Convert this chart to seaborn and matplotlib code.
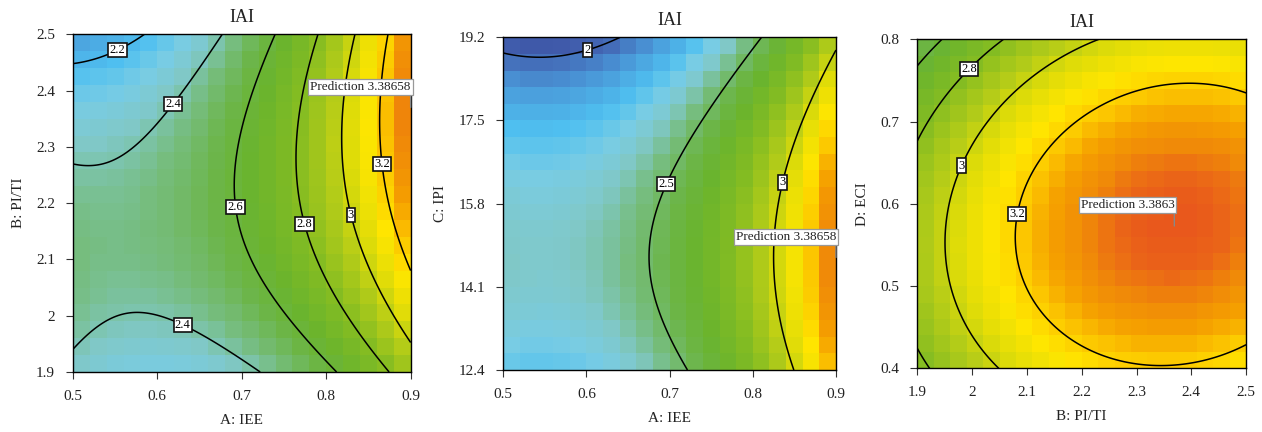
import numpy as np
import pandas as pd
import matplotlib
matplotlib.use("Agg")
import matplotlib.pyplot as plt
import seaborn as sns
from matplotlib.colors import LinearSegmentedColormap

# ---------------- data ----------------
TITLE = "IAI"
A_range = [0.5, 0.9]      # A: IEE
B_range = [1.9, 2.5]      # B: PI/TI
C_range = [12.4, 19.2]    # C: IPI
D_range = [0.4, 0.8]      # D: ECI

A_ticks = ["0.5", "0.6", "0.7", "0.8", "0.9"]
B_ticks = ["1.9", "2", "2.1", "2.2", "2.3", "2.4", "2.5"]
C_ticks = ["12.4", "14.1", "15.8", "17.5", "19.2"]
D_ticks = ["0.4", "0.5", "0.6", "0.7", "0.8"]

# quadratic response-surface coefficients in coded units (-1..1)
# order: [const, x, y, x^2, y^2, x*y]
model_AB = [2.617, 0.441, 0.050, 0.264, -0.199, 0.176]
model_AC = [2.532, 0.5055, -0.160, 0.3235, -0.250, 0.0]
model_BD = [3.3155, 0.2307, -0.0865, -0.199, -0.255, 0.040]

labeled_AB = [2.2, 2.4, 2.6, 2.8, 3.0, 3.2]
labeled_AC = [2.0, 2.5, 3.0]
labeled_BD = [2.8, 3.0, 3.2]
unlabeled_AB = []
unlabeled_AC = []
unlabeled_BD = [2.6]

# contour-label anchor points (data units)
lab_pos_AB = [(0.55, 2.48), (0.62, 2.375), (0.70, 2.195), (0.78, 2.165),
              (0.832, 2.18), (0.87, 2.27), (0.635, 2.0)]
lab_pos_AC = [(0.60, 19.0), (0.688, 16.26), (0.83, 16.26)]
lab_pos_BD = [(1.985, 0.77), (1.975, 0.648), (2.08, 0.588)]

pred_AB = (0.9, 2.37)
pred_AC = (0.9, 14.7)
pred_BD = (2.369, 0.573)
pred_text = ["Prediction 3.38658", "Prediction 3.38658", "Prediction 3.3863"]

# colour scale (response value -> colour)
cmap_vals = [1.90, 2.00, 2.10, 2.22, 2.30, 2.37, 2.45, 2.55, 2.65, 2.80,
             2.95, 3.05, 3.15, 3.22, 3.28, 3.33, 3.37, 3.40]
cmap_cols = ["#3b4a9c", "#4366b4", "#4a98d8", "#4fc0f0", "#78cce4", "#80c8c8",
             "#76bd80", "#6cb548", "#6ab42d", "#84bc22", "#b4cc18", "#e0dc08",
             "#ffe600", "#fcc800", "#f5a000", "#f08a08", "#ea6418", "#e8501e"]

# ---------------- style ----------------
sns.set_theme(style="white")
plt.rcParams["font.family"] = ["Liberation Serif", "DejaVu Serif"]
TXT = "#222222"

vmin, vmax = cmap_vals[0], cmap_vals[-1]
cmap = LinearSegmentedColormap.from_list(
    "de", [((v - vmin) / (vmax - vmin), c) for v, c in zip(cmap_vals, cmap_cols)])

fig = plt.figure(figsize=(12.62, 4.32), dpi=100)
axes_pos = [[0.0578, 0.1389, 0.2676, 0.7817],
            [0.3988, 0.1435, 0.2636, 0.7701],
            [0.7269, 0.1474, 0.2605, 0.7616]]

NCELL = 20


def surface(coef, xc, yc):
    return (coef[0] + coef[1] * xc + coef[2] * yc + coef[3] * xc ** 2
            + coef[4] * yc ** 2 + coef[5] * xc * yc)


def panel(pos, xr, yr, coef, labeled, unlabeled, lab_pos, pred, ptxt,
          xticks, yticks, xlabel, ylabel):
    ax = fig.add_axes(pos)
    # heatmap cells
    xc = (np.arange(NCELL) + 0.5) / NCELL * 2 - 1
    yc = 1 - (np.arange(NCELL) + 0.5) / NCELL * 2  # top row first
    XC, YC = np.meshgrid(xc, yc)
    Z = surface(coef, XC, YC)
    df = pd.DataFrame(Z)
    sns.heatmap(df, ax=ax, cmap=cmap, vmin=vmin, vmax=vmax, cbar=False,
                xticklabels=False, yticklabels=False, linewidths=0)
    # contours on fine grid (index coordinates)
    xf = np.linspace(-1, 1, 301)
    yf = np.linspace(-1, 1, 301)
    XF, YF = np.meshgrid(xf, yf)
    ZF = surface(coef, XF, YF)
    XI = (XF + 1) / 2 * NCELL
    YI = (1 - YF) / 2 * NCELL
    cs = ax.contour(XI, YI, ZF, levels=labeled, colors="black", linewidths=1.1)
    if unlabeled:
        ax.contour(XI, YI, ZF, levels=unlabeled, colors="black", linewidths=1.1)

    def to_idx(x, y):
        return ((x - xr[0]) / (xr[1] - xr[0]) * NCELL,
                (yr[1] - y) / (yr[1] - yr[0]) * NCELL)

    manual = [to_idx(x, y) for x, y in lab_pos]
    texts = ax.clabel(cs, manual=manual, inline=False,
                      fontsize=9, fmt=lambda v: f"{v:g}")
    for t in texts:
        t.set_rotation(0)
        t.set_color("black")
        t.set_bbox(dict(boxstyle="square,pad=0.1", fc="white", ec="#111111", lw=1.2))
        t.set_zorder(5)
    # prediction flag
    px, py = to_idx(*pred)
    ax.annotate(ptxt, xy=(px, py), xytext=(0, 10.5), textcoords="offset points",
                ha="right", va="bottom", fontsize=9.5, color=TXT, zorder=6,
                bbox=dict(boxstyle="square,pad=0.15", fc="white", ec="#999999", lw=0.9),
                arrowprops=dict(arrowstyle="-", color="#888888", lw=1.0,
                                shrinkA=0, shrinkB=0, relpos=(1.0, 0.0)))
    ax.set_xlim(0, NCELL)
    ax.set_ylim(NCELL, 0)
    ax.set_xticks(np.linspace(0, NCELL, len(xticks)))
    ax.set_xticklabels(xticks, rotation=0)
    ax.set_yticks(np.linspace(NCELL, 0, len(yticks)))
    ax.set_yticklabels(yticks, rotation=0)
    ax.tick_params(axis="both", direction="out", length=5, width=0.8,
                   color="#333333", labelcolor=TXT, labelsize=11, pad=8,
                   bottom=True, left=True)
    for s in ax.spines.values():
        s.set_visible(True)
        s.set_color("black")
        s.set_linewidth(1.0)
    ax.set_xlabel(xlabel, fontsize=11, color=TXT, labelpad=8)
    ax.set_ylabel(ylabel, fontsize=11, color=TXT, labelpad=8)
    ax.set_title(TITLE, fontsize=13, color=TXT, pad=9)
    return ax


panel(axes_pos[0], A_range, B_range, model_AB, labeled_AB, unlabeled_AB, lab_pos_AB,
      pred_AB, pred_text[0], A_ticks, B_ticks, "A: IEE", "B: PI/TI")
panel(axes_pos[1], A_range, C_range, model_AC, labeled_AC, unlabeled_AC, lab_pos_AC,
      pred_AC, pred_text[1], A_ticks, C_ticks, "A: IEE", "C: IPI")
panel(axes_pos[2], B_range, D_range, model_BD, labeled_BD, unlabeled_BD, lab_pos_BD,
      pred_BD, pred_text[2], B_ticks, D_ticks, "B: PI/TI", "D: ECI")

fig.savefig("out.png", dpi=100, facecolor="white")
